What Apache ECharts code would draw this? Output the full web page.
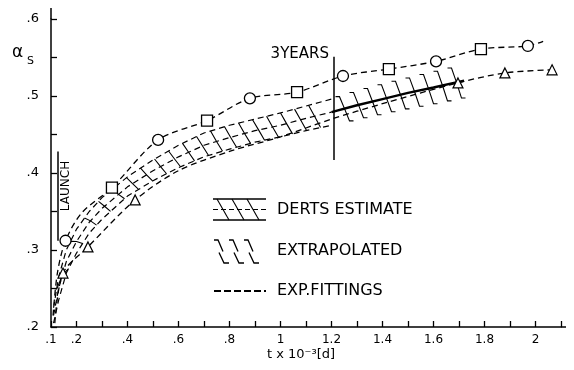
<!DOCTYPE html>
<html><head><meta charset="utf-8">
<script src="https://cdn.jsdelivr.net/npm/echarts@6/dist/echarts.min.js"></script>
<style>html,body{margin:0;padding:0;background:#fff}#c{width:574px;height:370px}</style>
</head><body><div id="c"></div>
<script>
// ---- data ----
const upperT = [0.108, 0.125, 0.157, 0.22, 0.339, 0.52, 0.712, 0.88, 1.065, 1.245, 1.425, 1.61, 1.786, 1.97, 2.03];
const upperY = [0.215, 0.27, 0.312, 0.348, 0.381, 0.443, 0.468, 0.497, 0.505, 0.526, 0.535, 0.545, 0.561, 0.565, 0.571];
const upperMark = ['none','none','circle','none','rect','circle','rect','circle','rect','circle','rect','circle','rect','circle','none'];

const lowerT = [0.115, 0.147, 0.245, 0.43, 0.6, 0.8, 1.0, 1.2, 1.4, 1.696, 1.88, 2.065];
const lowerY = [0.205, 0.27, 0.304, 0.365, 0.403, 0.428, 0.447, 0.47, 0.49, 0.517, 0.530, 0.534];
const lowerMark = ['none','triangle','triangle','triangle','none','none','none','none','none','triangle','triangle','triangle'];

const estT   = [0.11, 0.13, 0.16, 0.2, 0.25, 0.3, 0.4, 0.5, 0.6, 0.7, 0.8, 0.9, 1.0, 1.1, 1.2];
const estTop = [0.225, 0.265, 0.30, 0.327, 0.35, 0.368, 0.395, 0.417, 0.436, 0.452, 0.462, 0.470, 0.478, 0.487, 0.496];
const estMid = [0.215, 0.25, 0.285, 0.311, 0.336, 0.354, 0.382, 0.403, 0.421, 0.436, 0.446, 0.455, 0.462, 0.471, 0.479];
const estBot = [0.205, 0.235, 0.27, 0.296, 0.322, 0.34, 0.37, 0.39, 0.407, 0.421, 0.431, 0.440, 0.447, 0.455, 0.462];

const extT   = [1.2, 1.3, 1.4, 1.5, 1.6, 1.72];
const extTop = [0.496, 0.506, 0.515, 0.523, 0.531, 0.540];
const extMid = [0.479, 0.488, 0.496, 0.504, 0.511, 0.520];
const extBot = [0.462, 0.470, 0.477, 0.484, 0.490, 0.498];

const threeYearsT = 1.21;
const threeYearsRange = [0.417, 0.551];
const launchT = 0.127;
const launchRange = [0.312, 0.428];

const xTickLabels = ['.1', '.2', '.4', '.6', '.8', '1', '1.2', '1.4', '1.6', '1.8', '2'];
const yTickLabels = ['.2', '.3', '.4', '.5', '.6'];

// ---- helpers ----
const FONT = 'DejaVu Sans';
const dash = [6, 4];
const pairs = (xs, ys) => xs.map((x, i) => [x, ys[i]]);
const inList = (v, list) => list.some(s => Math.abs(parseFloat(s) - v) < 1e-6);
const seg = (pts, w) => ({ type: 'polyline', shape: { points: pts }, style: { stroke: '#000', lineWidth: w || 1.1, fill: null } });

function yAt(pts, x) {
  if (x <= pts[0][0]) return pts[0][1];
  for (let i = 1; i < pts.length; i++) {
    if (x <= pts[i][0]) {
      const a = pts[i - 1], b = pts[i];
      return a[1] + (b[1] - a[1]) * (x - a[0]) / (b[0] - a[0]);
    }
  }
  return pts[pts.length - 1][1];
}

// hatch strokes of the band, drawn from the band's data through the axes
function bandRender(kind) {
  return function (params, api) {
    if (params.dataIndexInside !== 0) return null;
    const n = params.dataInsideLength;
    const top = [], mid = [], bot = [];
    for (let i = 0; i < n; i++) {
      const t = api.value(0, i);
      top.push(api.coord([t, api.value(1, i)]));
      mid.push(api.coord([t, api.value(2, i)]));
      bot.push(api.coord([t, api.value(3, i)]));
    }
    const x0 = top[0][0], x1 = top[n - 1][0];
    const children = [];
    if (kind === 'est') {
      for (let x = x0 + 3; x + 12 <= x1 + 2; x += 14) {
        children.push(seg([[x, yAt(top, x)], [x + 6, yAt(mid, x + 6)], [x + 12, yAt(bot, x + 12)]]));
      }
    } else {
      for (let x = x0 + 8; x + 10 <= x1 + 2; x += 14) {
        const a = yAt(top, x), b = yAt(mid, x + 5), c = yAt(bot, x + 10);
        children.push(seg([[x - 4, a], [x, a], [x + 5, b]]));
        children.push(seg([[x + 5, b], [x + 10, c], [x + 14, c]]));
      }
    }
    return { type: 'group', children };
  };
}

// legend swatches
function legendEst(x, y0, y2) {
  const y1 = (y0 + y2) / 2, ch = [];
  ch.push(seg([[x, y0], [x + 53, y0]], 1.4));
  ch.push({ type: 'line', shape: { x1: x, y1: y1, x2: x + 53, y2: y1 }, style: { stroke: '#000', lineWidth: 1.1, lineDash: [5, 3] } });
  ch.push(seg([[x, y2], [x + 53, y2]], 1.4));
  for (let s = x + 4; s + 12 <= x + 53; s += 15) ch.push(seg([[s, y0], [s + 6, y1], [s + 12, y2]]));
  return { type: 'group', children: ch };
}
function legendExt(x, y0, y2) {
  const y1 = (y0 + y2) / 2, ch = [];
  for (let s = x + 5; s + 14 <= x + 56; s += 15) {
    ch.push(seg([[s - 4, y0], [s, y0], [s + 5, y1]], 1.3));
    ch.push(seg([[s + 1, y1 + 1], [s + 6, y2], [s + 11, y2]], 1.3));
  }
  return { type: 'group', children: ch };
}

const chart = echarts.init(document.getElementById('c'), null, { renderer: 'canvas' });
chart.setOption({
  animation: false,
  backgroundColor: '#fff',
  grid: { left: 51, right: 13, top: 19, bottom: 43, containLabel: false },
  xAxis: {
    type: 'value', min: 0.1, max: 2.1, interval: 0.1,
    axisLine: { show: true, lineStyle: { color: '#000', width: 1.5 } },
    axisTick: { show: true, inside: true, length: 6, lineStyle: { color: '#000', width: 1.3 } },
    splitLine: { show: false },
    axisLabel: {
      color: '#000', fontFamily: FONT, fontSize: 12, margin: 7,
      formatter: v => {
        if (!inList(v, xTickLabels)) return '';
        if (v < 1) return '.' + Math.round(v * 10);
        return Math.abs(v - Math.round(v)) < 1e-6 ? String(Math.round(v)) : v.toFixed(1);
      }
    }
  },
  yAxis: {
    type: 'value', min: 0.2, max: 0.6, interval: 0.05,
    axisLine: { show: true, lineStyle: { color: '#000', width: 1.5 } },
    axisTick: { show: true, inside: true, length: 6, lineStyle: { color: '#000', width: 1.3 } },
    splitLine: { show: false },
    axisLabel: {
      color: '#000', fontFamily: FONT, fontSize: 13, margin: 12,
      formatter: v => inList(v, yTickLabels) ? '.' + Math.round(v * 10) : ''
    }
  },
  series: [
    { type: 'custom', name: 'DERTS ESTIMATE', clip: true, z: 2, renderItem: bandRender('est'),
      encode: { x: 0, y: [1, 2, 3] },
      data: estT.map((t, i) => [t, estTop[i], estMid[i], estBot[i]]) },
    { type: 'custom', name: 'EXTRAPOLATED', clip: true, z: 2, renderItem: bandRender('ext'),
      encode: { x: 0, y: [1, 2, 3] },
      data: extT.map((t, i) => [t, extTop[i], extMid[i], extBot[i]]) },
    { type: 'line', name: 'estTop', symbol: 'none', z: 3, data: pairs(estT, estTop),
      lineStyle: { color: '#000', width: 1.2, type: dash } },
    { type: 'line', name: 'estMid', symbol: 'none', z: 3, data: pairs(estT, estMid),
      lineStyle: { color: '#000', width: 1.2, type: dash } },
    { type: 'line', name: 'estBot', symbol: 'none', z: 3, data: pairs(estT, estBot),
      lineStyle: { color: '#000', width: 1.2, type: dash } },
    { type: 'line', name: 'extMid', symbol: 'none', z: 3, data: pairs(extT, extMid),
      lineStyle: { color: '#000', width: 2.4 } },
    { type: 'line', name: 'upper', smooth: 0.3, z: 5,
      data: upperT.map((t, i) => ({ value: [t, upperY[i]], symbol: upperMark[i] })),
      symbolSize: 11, showAllSymbol: true,
      itemStyle: { color: '#fff', borderColor: '#000', borderWidth: 1.3 },
      lineStyle: { color: '#000', width: 1.3, type: dash },
      markLine: {
        silent: true, symbol: 'none', label: { show: false },
        lineStyle: { color: '#000', width: 1.5, type: 'solid' },
        data: [
          [{ coord: [threeYearsT, threeYearsRange[0]] }, { coord: [threeYearsT, threeYearsRange[1]] }],
          [{ coord: [launchT, launchRange[0]] }, { coord: [launchT, launchRange[1]] }]
        ]
      } },
    { type: 'line', name: 'lower', smooth: 0.3, z: 5,
      data: lowerT.map((t, i) => ({ value: [t, lowerY[i]], symbol: lowerMark[i] })),
      symbolSize: 10, showAllSymbol: true,
      itemStyle: { color: '#fff', borderColor: '#000', borderWidth: 1.2 },
      lineStyle: { color: '#000', width: 1.3, type: dash } }
  ],
  graphic: [
    { type: 'line', shape: { x1: 51, y1: 19, x2: 51, y2: 8 }, style: { stroke: '#000', lineWidth: 1.5 } },
    { type: 'line', shape: { x1: 561, y1: 327, x2: 566, y2: 327 }, style: { stroke: '#000', lineWidth: 1.5 } },
    { type: 'text', left: 12, top: 44, style: { text: 'α', font: '17px ' + FONT, fill: '#000' } },
    { type: 'text', left: 27, top: 56, style: { text: 'S', font: '11px ' + FONT, fill: '#000' } },
    { type: 'text', x: 329, y: 54, style: { text: '3YEARS', font: '15px ' + FONT, fill: '#000', align: 'right', verticalAlign: 'middle' } },
    { type: 'text', x: 66, y: 186, rotation: Math.PI / 2, style: { text: 'LAUNCH', font: '12px ' + FONT, fill: '#000', align: 'center', verticalAlign: 'middle' } },
    { type: 'text', x: 301, y: 355, style: { text: 't x 10⁻³[d]', font: '13px ' + FONT, fill: '#000', align: 'center', verticalAlign: 'middle' } },
    legendEst(213, 199, 220),
    { type: 'text', x: 277, y: 210, style: { text: 'DERTS ESTIMATE', font: '16px ' + FONT, fill: '#000', verticalAlign: 'middle' } },
    legendExt(213, 240, 263),
    { type: 'text', x: 277, y: 251, style: { text: 'EXTRAPOLATED', font: '16px ' + FONT, fill: '#000', verticalAlign: 'middle' } },
    { type: 'line', shape: { x1: 214, y1: 291, x2: 266, y2: 291 }, style: { stroke: '#000', lineWidth: 2, lineDash: [7, 3] } },
    { type: 'text', x: 277, y: 291, style: { text: 'EXP.FITTINGS', font: '16px ' + FONT, fill: '#000', verticalAlign: 'middle' } }
  ]
});
</script></body></html>
